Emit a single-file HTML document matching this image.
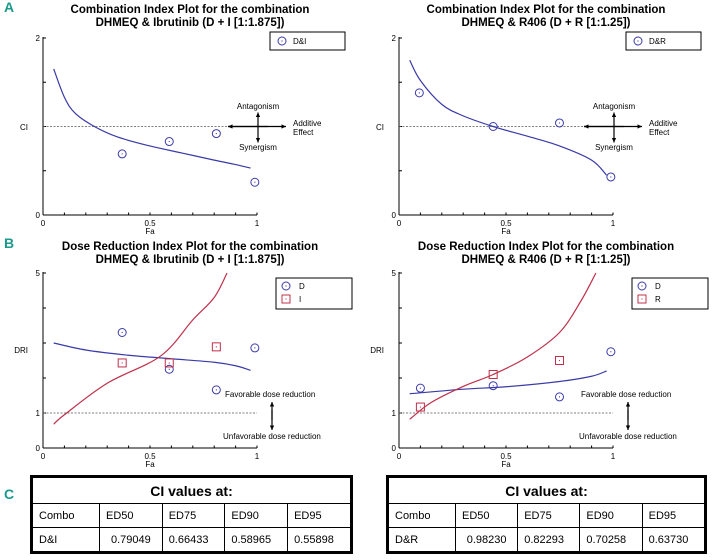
<!DOCTYPE html>
<html><head><meta charset="utf-8"><style>
body{margin:0;width:714px;height:560px;background:#fff;overflow:hidden;font-family:"Liberation Sans",sans-serif}
svg{position:absolute;left:0;top:0}
table{position:absolute;border-collapse:collapse;border:3px solid #000;font-family:"Liberation Sans",sans-serif;font-size:11px}
td{border:1.5px solid #000;height:23px;padding:0 6px}
.h{text-align:center;font-weight:bold;font-size:14px;height:25px}
</style></head><body>
<svg id="chart" width="714" height="560"></svg>
<table style="left:30px;top:475px;width:323px">
<tr><td colspan="5" class="h">CI values at:</td></tr>
<tr><td style="width:54px">Combo</td><td>ED50</td><td>ED75</td><td>ED90</td><td>ED95</td></tr>
<tr><td>D&amp;I</td><td style="text-align:center">0.79049</td><td>0.66433</td><td>0.58965</td><td>0.55898</td></tr>
</table>
<table style="left:386px;top:475px;width:321px">
<tr><td colspan="5" class="h">CI values at:</td></tr>
<tr><td style="width:54px">Combo</td><td>ED50</td><td>ED75</td><td>ED90</td><td>ED95</td></tr>
<tr><td>D&amp;R</td><td style="text-align:center">0.98230</td><td>0.82293</td><td>0.70258</td><td>0.63730</td></tr>
</table>
<script>
// CI plot data (left: D&I, right: D&R)
const ciLeftFa=[0.37,0.59,0.81,0.99];
const ciLeftVal=[0.69,0.83,0.92,0.37];
const ciLeftCurveFa=[0.05,0.1,0.15,0.24,0.35,0.5,0.65,0.8,0.9,0.97];
const ciLeftCurve=[1.65,1.33,1.15,1.0,0.88,0.78,0.70,0.62,0.57,0.53];
const ciRightFa=[0.095,0.44,0.75,0.99];
const ciRightVal=[1.38,1.0,1.04,0.43];
const ciRightCurveFa=[0.05,0.1,0.2,0.3,0.44,0.6,0.75,0.9,0.97];
const ciRightCurve=[1.75,1.52,1.25,1.12,1.0,0.89,0.78,0.62,0.45];
// DRI plot data
const driLeftFa=[0.37,0.59,0.81,0.99];
const driLeftD=[3.3,2.25,1.66,2.86];
const driLeftI=[2.43,2.43,2.89,null];
const driLeftCurveFa=[0.05,0.2,0.4,0.6,0.8,0.9,0.97];
const driLeftCurveD=[3.0,2.8,2.65,2.55,2.45,2.35,2.22];
const driLeftCurveIFa=[0.05,0.1,0.3,0.55,0.7,0.8,0.86];
const driLeftCurveI=[0.68,0.95,1.85,2.63,3.66,4.3,5.0];
const driRightFa=[0.1,0.44,0.75,0.99];
const driRightD=[1.71,1.78,1.46,2.75];
const driRightR=[1.17,2.1,2.5,null];
const driRightCurveFa=[0.05,0.3,0.5,0.75,0.9,0.97];
const driRightCurveD=[1.55,1.68,1.75,1.9,2.05,2.2];
const driRightCurveRFa=[0.05,0.15,0.3,0.44,0.6,0.75,0.85,0.92];
const driRightCurveR=[0.82,1.3,1.76,2.1,2.6,3.3,4.2,5.0];
const ciTicks=["0","2"], driTicks=["0","1","5"], faTicks=["0","0.5","1"];

const NS="http://www.w3.org/2000/svg", svg=document.getElementById('chart');
const BLUE="#3a3aa8", RED="#c0304a";
function mk(t,a,p){const e=document.createElementNS(NS,t);for(const k in a)e.setAttribute(k,a[k]);(p||svg).appendChild(e);return e;}
function txt(x,y,s,o){const e=mk('text',Object.assign({x:x,y:y,'font-size':8,'font-family':'Liberation Sans, sans-serif',fill:'#000'},o||{}));e.textContent=s;return e;}
function arrow(x1,y1,x2,y2){mk('line',{x1:x1,y1:y1,x2:x2,y2:y2,stroke:'#000','stroke-width':1.2});const a=Math.atan2(y2-y1,x2-x1),L=5;
 mk('polygon',{points:`${x2},${y2} ${x2-L*Math.cos(a-0.45)},${y2-L*Math.sin(a-0.45)} ${x2-L*Math.cos(a+0.45)},${y2-L*Math.sin(a+0.45)}`,fill:'#000'});}
function circle(x,y,c){mk('circle',{cx:x,cy:y,r:4,fill:'none',stroke:c,'stroke-width':1});mk('circle',{cx:x,cy:y,r:0.6,fill:c});}
function square(x,y,c){mk('rect',{x:x-4,y:y-4,width:8,height:8,fill:'none',stroke:c,'stroke-width':1});mk('circle',{cx:x,cy:y,r:0.6,fill:c});}
function curve(xs,ys,X,Y,c,name){
 const P=xs.map((v,i)=>[X(v),Y(ys[i])]);
 let d='M'+P[0][0]+','+P[0][1];
 for(let i=0;i<P.length-1;i++){
  const p0=P[Math.max(i-1,0)],p1=P[i],p2=P[i+1],p3=P[Math.min(i+2,P.length-1)];
  const c1=[p1[0]+(p2[0]-p0[0])/6,p1[1]+(p2[1]-p0[1])/6],c2=[p2[0]-(p3[0]-p1[0])/6,p2[1]-(p3[1]-p1[1])/6];
  d+=`C${c1[0]},${c1[1]} ${c2[0]},${c2[1]} ${p2[0]},${p2[1]}`;
 }
 const p=mk('path',{d:d,fill:'none',stroke:c,'stroke-width':1.2,'stroke-linejoin':'round'});
 
 }
function axes(x0,x1,y0,y1,X,Y,yvals,ylab,ymin,ymax,ystep){
 mk('line',{x1:x0,y1:y0,x2:x0,y2:y1,stroke:'#000','stroke-width':1});
 mk('line',{x1:x0,y1:y0,x2:x1,y2:y0,stroke:'#000','stroke-width':1});
 for(let f=0;f<=1.0001;f+=0.1){mk('line',{x1:X(f),y1:y0,x2:X(f),y2:y0-2.5,stroke:'#000'});}
 faTicks.forEach(t=>txt(X(+t),y0+11,t,{'text-anchor':'middle'}));
 txt(X(0.5),y0+19,'Fa',{'text-anchor':'middle'});
 for(let v=ymin;v<=ymax+1e-6;v+=ystep){mk('line',{x1:x0,y1:Y(v),x2:x0+3,y2:Y(v),stroke:'#000'});}
 yvals.forEach(t=>txt(x0-3,Y(+t)+3,t,{'text-anchor':'end'}));
 txt(x0-15,ylab[1],ylab[0],{'text-anchor':'end'});
}
function title(cx,y,l1,l2){txt(cx,y,l1,{'text-anchor':'middle','font-size':11.5,'font-weight':'bold'});txt(cx,y+13,l2,{'text-anchor':'middle','font-size':11.5,'font-weight':'bold'});}

function ciPlot(ox,l2,fa,val,cfa,cv,leg){
 const X=f=>ox+f*214, Y=v=>215-v*88.5;
 title(ox+147,13,'Combination Index Plot for the combination',l2);
 axes(ox,ox+214,215,37,X,Y,ciTicks,['CI',130],0,2,0.5);
 mk('line',{x1:ox,y1:Y(1),x2:X(1),y2:Y(1),stroke:'#555','stroke-dasharray':'2,1.5','stroke-width':0.8});
 curve(cfa,cv,X,Y,BLUE,'ci-curve');
 fa.forEach((f,i)=>circle(X(f),Y(val[i]),BLUE));
 mk('rect',{x:ox+227,y:32,width:75,height:18,fill:'none',stroke:'#000','stroke-width':1});
 circle(ox+239,41,BLUE);txt(ox+250,44,leg);
 const ax=ox+215;arrow(ax+10,Y(1),ax-30,Y(1));arrow(ax-30,Y(1),ax+28,Y(1));
 arrow(ax,Y(1),ax,Y(1)-14);arrow(ax,Y(1),ax,Y(1)+16);
 txt(ax,109,'Antagonism',{'text-anchor':'middle'});txt(ax,150,'Synergism',{'text-anchor':'middle'});
 txt(ax+35,126,'Additive');txt(ax+35,135,'Effect');
}
function driPlot(ox,l2,fa,d,s,cfa,cd,sfa,sv,leg2){
 const X=f=>ox+f*214, Y=v=>448-v*35;
 title(ox+147,250,'Dose Reduction Index Plot for the combination',l2);
 axes(ox,ox+214,448,272,X,Y,driTicks,['DRI',353],0,5,1);
 mk('line',{x1:ox,y1:Y(1),x2:X(1),y2:Y(1),stroke:'#555','stroke-dasharray':'2,1.5','stroke-width':0.8});
 curve(cfa,cd,X,Y,BLUE,'dri-curve-d');curve(sfa,sv,X,Y,RED,'dri-curve-2');
 fa.forEach((f,i)=>{circle(X(f),Y(d[i]),BLUE);if(s[i]!=null)square(X(f),Y(s[i]),RED);});
 mk('rect',{x:ox+233,y:278,width:76,height:31,fill:'none',stroke:'#000','stroke-width':1});
 circle(ox+243,286,BLUE);txt(ox+256,289,'D');square(ox+243,299,RED);txt(ox+256,302,leg2);
 txt(ox+182,397,'Favorable dose reduction');
 arrow(ox+229,420,ox+229,402);arrow(ox+229,410,ox+229,430);
 txt(ox+180,439,'Unfavorable dose reduction');
}
ciPlot(43,'DHMEQ & Ibrutinib (D + I [1:1.875])',ciLeftFa,ciLeftVal,ciLeftCurveFa,ciLeftCurve,'D&I');
ciPlot(399,'DHMEQ & R406 (D + R [1:1.25])',ciRightFa,ciRightVal,ciRightCurveFa,ciRightCurve,'D&R');
driPlot(43,'DHMEQ & Ibrutinib (D + I [1:1.875])',driLeftFa,driLeftD,driLeftI,driLeftCurveFa,driLeftCurveD,driLeftCurveIFa,driLeftCurveI,'I');
driPlot(399,'DHMEQ & R406 (D + R [1:1.25])',driRightFa,driRightD,driRightR,driRightCurveFa,driRightCurveD,driRightCurveRFa,driRightCurveR,'R');
[['A',12],['B',248],['C',499]].forEach(p=>{const t=txt(4,p[1],p[0],{'font-size':14,'font-weight':'bold',fill:'#1a9a8a'});
 
 });
</script>
</body></html>
